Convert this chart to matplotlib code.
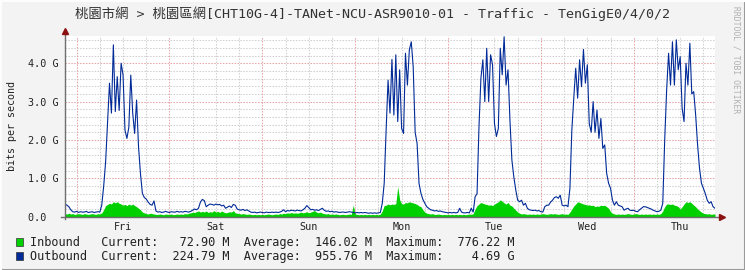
import matplotlib
matplotlib.use('Agg')
import matplotlib.pyplot as plt
from matplotlib.patches import Rectangle
from matplotlib.lines import Line2D
import numpy as np

plt.rcParams['font.family'] = ['DejaVu Sans Mono', 'Noto Sans CJK TC']

title = '桃園市網 > 桃園區網[CHT10G-4]-TANet-NCU-ASR9010-01 - Traffic - TenGigE0/4/0/2'
day_labels = ['Fri', 'Sat', 'Sun', 'Mon', 'Tue', 'Wed', 'Thu']
y_ticks = [0, 1, 2, 3, 4]
y_tick_labels = ['0.0  ', '1.0 G', '2.0 G', '3.0 G', '4.0 G']

# 30 minute samples in Gbit/s, first sample Thu 21:00
inbound = [
    0.08, 0.07, 0.09, 0.07, 0.08, 0.06, 0.07, 0.08, 0.07, 0.06, 0.08, 0.07,
    0.06, 0.07, 0.08, 0.07, 0.06, 0.08, 0.07, 0.10, 0.18, 0.29, 0.32, 0.35,
    0.33, 0.39, 0.36, 0.39, 0.35, 0.33, 0.30, 0.32, 0.29, 0.33, 0.30, 0.33,
    0.29, 0.26, 0.22, 0.18, 0.12, 0.10, 0.08, 0.07, 0.09, 0.08, 0.07, 0.06,
    0.06, 0.07, 0.06, 0.05, 0.07, 0.06, 0.06, 0.07, 0.05, 0.06, 0.07, 0.06,
    0.07, 0.06, 0.08, 0.07, 0.09, 0.10, 0.12, 0.11, 0.13, 0.15, 0.12, 0.14,
    0.12, 0.15, 0.11, 0.13, 0.12, 0.16, 0.12, 0.14, 0.11, 0.15, 0.12, 0.10,
    0.11, 0.13, 0.12, 0.16, 0.10, 0.09, 0.08, 0.07, 0.08, 0.07, 0.06, 0.07,
    0.06, 0.05, 0.06, 0.05, 0.06, 0.05, 0.06, 0.05, 0.06, 0.07, 0.06, 0.05,
    0.06, 0.07, 0.06, 0.08, 0.07, 0.09, 0.08, 0.10, 0.09, 0.11, 0.09, 0.10,
    0.09, 0.10, 0.12, 0.10, 0.11, 0.13, 0.10, 0.12, 0.14, 0.16, 0.12, 0.10,
    0.12, 0.09, 0.08, 0.07, 0.08, 0.06, 0.07, 0.06, 0.07, 0.06, 0.05, 0.06,
    0.06, 0.05, 0.06, 0.07, 0.06, 0.30, 0.07, 0.06, 0.05, 0.06, 0.05, 0.06,
    0.05, 0.06, 0.05, 0.06, 0.05, 0.06, 0.05, 0.07, 0.15, 0.29, 0.30, 0.33,
    0.31, 0.33, 0.32, 0.34, 0.78, 0.44, 0.34, 0.33, 0.37, 0.36, 0.39, 0.37,
    0.36, 0.34, 0.32, 0.28, 0.26, 0.18, 0.12, 0.09, 0.08, 0.07, 0.08, 0.06,
    0.06, 0.07, 0.06, 0.05, 0.06, 0.05, 0.06, 0.05, 0.06, 0.05, 0.06, 0.05,
    0.06, 0.05, 0.06, 0.05, 0.06, 0.07, 0.06, 0.08, 0.20, 0.29, 0.33, 0.37,
    0.35, 0.33, 0.32, 0.30, 0.31, 0.29, 0.33, 0.36, 0.39, 0.44, 0.40, 0.36,
    0.33, 0.37, 0.30, 0.28, 0.22, 0.17, 0.12, 0.09, 0.07, 0.08, 0.07, 0.06,
    0.07, 0.06, 0.07, 0.06, 0.07, 0.06, 0.07, 0.08, 0.07, 0.06, 0.07, 0.08,
    0.07, 0.08, 0.07, 0.06, 0.07, 0.08, 0.06, 0.07, 0.06, 0.12, 0.20, 0.28,
    0.33, 0.39, 0.37, 0.35, 0.33, 0.32, 0.30, 0.31, 0.29, 0.30, 0.26, 0.28,
    0.27, 0.30, 0.29, 0.30, 0.26, 0.22, 0.13, 0.09, 0.07, 0.06, 0.07, 0.06,
    0.07, 0.06, 0.07, 0.08, 0.07, 0.06, 0.07, 0.08, 0.07, 0.06, 0.07, 0.06,
    0.07, 0.06, 0.07, 0.06, 0.07, 0.06, 0.07, 0.06, 0.08, 0.15, 0.26, 0.33,
    0.33, 0.32, 0.33, 0.30, 0.29, 0.26, 0.20, 0.26, 0.33, 0.39, 0.37, 0.39,
    0.35, 0.30, 0.26, 0.20, 0.16, 0.12, 0.09, 0.08, 0.07, 0.08, 0.06, 0.07,
    0.073,
]

outbound = [
    0.33, 0.30, 0.26, 0.18, 0.13, 0.12, 0.14, 0.11, 0.13, 0.12, 0.12, 0.14,
    0.11, 0.12, 0.13, 0.11, 0.12, 0.13, 0.12, 0.30, 0.80, 1.43, 2.43, 3.48,
    2.70, 4.48, 2.74, 3.65, 2.77, 4.00, 3.70, 2.26, 2.04, 2.33, 3.69, 2.70,
    2.17, 3.04, 1.83, 1.13, 0.61, 0.50, 0.46, 0.38, 0.32, 0.30, 0.41, 0.15,
    0.12, 0.13, 0.11, 0.12, 0.14, 0.12, 0.11, 0.13, 0.12, 0.12, 0.14, 0.12,
    0.13, 0.12, 0.14, 0.13, 0.12, 0.14, 0.17, 0.20, 0.18, 0.22, 0.38, 0.45,
    0.42, 0.26, 0.30, 0.33, 0.32, 0.30, 0.33, 0.31, 0.32, 0.28, 0.30, 0.22,
    0.25, 0.28, 0.24, 0.32, 0.30, 0.20, 0.18, 0.17, 0.19, 0.16, 0.18, 0.15,
    0.12, 0.11, 0.12, 0.10, 0.11, 0.12, 0.11, 0.10, 0.12, 0.11, 0.11, 0.12,
    0.11, 0.12, 0.11, 0.12, 0.14, 0.18, 0.13, 0.16, 0.15, 0.17, 0.16, 0.15,
    0.17, 0.16, 0.15, 0.18, 0.22, 0.29, 0.24, 0.18, 0.19, 0.17, 0.18, 0.16,
    0.19, 0.22, 0.17, 0.14, 0.15, 0.13, 0.14, 0.12, 0.13, 0.12, 0.11, 0.12,
    0.12, 0.11, 0.12, 0.13, 0.12, 0.11, 0.10, 0.11, 0.10, 0.11, 0.10, 0.11,
    0.10, 0.09, 0.10, 0.09, 0.10, 0.09, 0.10, 0.11, 0.35, 0.87, 2.26, 3.56,
    2.70, 4.10, 2.65, 4.22, 2.48, 3.83, 2.30, 2.17, 4.26, 3.43, 4.35, 4.56,
    3.90, 2.20, 1.91, 0.87, 0.61, 0.45, 0.35, 0.26, 0.22, 0.18, 0.17, 0.15,
    0.16, 0.14, 0.15, 0.13, 0.12, 0.11, 0.10, 0.11, 0.10, 0.11, 0.10, 0.11,
    0.22, 0.12, 0.10, 0.10, 0.11, 0.10, 0.22, 0.12, 0.52, 0.60, 2.35, 3.61,
    4.09, 3.00, 4.39, 3.00, 4.22, 3.96, 2.43, 2.09, 2.30, 4.39, 3.70, 4.69,
    3.43, 3.83, 2.52, 1.48, 1.04, 0.70, 0.43, 0.39, 0.43, 0.30, 0.35, 0.22,
    0.18, 0.17, 0.16, 0.17, 0.15, 0.16, 0.13, 0.12, 0.26, 0.30, 0.30, 0.38,
    0.43, 0.50, 0.52, 0.48, 0.56, 0.30, 0.28, 0.30, 0.26, 0.74, 2.26, 3.09,
    3.87, 3.09, 4.09, 3.39, 4.36, 3.48, 3.96, 2.43, 2.20, 3.00, 2.20, 2.78,
    2.04, 2.56, 1.78, 1.87, 1.13, 0.87, 0.74, 0.43, 0.30, 0.39, 0.30, 0.28,
    0.26, 0.17, 0.20, 0.22, 0.17, 0.16, 0.17, 0.14, 0.13, 0.18, 0.22, 0.26,
    0.26, 0.24, 0.22, 0.20, 0.17, 0.15, 0.13, 0.14, 0.17, 0.35, 2.00, 3.30,
    4.26, 3.43, 4.56, 3.43, 4.61, 3.83, 4.17, 2.83, 2.48, 4.00, 3.43, 4.52,
    3.20, 3.26, 2.65, 1.87, 1.26, 0.87, 0.74, 0.60, 0.43, 0.35, 0.39, 0.26,
    0.22,
]

legend_names = ['Inbound', 'Outbound']
legend_colors = ['#00cf00', '#002a97']
legend_current = ['72.90 M', '224.79 M']
legend_average = ['146.02 M', '955.76 M']
legend_maximum = ['776.22 M', '4.69 G']

W, H = 745, 270
hours = np.arange(len(outbound)) * 0.5
first_midnight = 3  # hours after start

fig = plt.figure(figsize=(W / 100, H / 100), dpi=100, facecolor='#f3f3f3')
ax = fig.add_axes([65 / W, 1 - 216.7 / H, 650 / W, 180.7 / H])
ax.set_facecolor('white')
ax.set_xlim(0, 168)
ax.set_ylim(0, 4.71)

# grid
dots = (0, (1.4, 1.4))
for v in np.arange(0.2, 4.71, 0.2):
    major = abs(v - round(v)) < 1e-6
    ax.axhline(v, color='#e9a3a3' if major else '#cfcfcf', lw=0.75, ls=dots, zorder=1)
for h in range(first_midnight, 168, 6):
    major = (h - first_midnight) % 24 == 0
    ax.axvline(h, color='#e9a3a3' if major else '#cfcfcf', lw=0.75, ls=dots, zorder=1)

ax.fill_between(hours, inbound, color=legend_colors[0], lw=0, zorder=2)
ax.plot(hours, outbound, color=legend_colors[1], lw=0.8, zorder=3)

for s in ax.spines.values():
    s.set_visible(False)

axis_col = '#6e6e6e'
ax.add_line(Line2D([-0.006, 1.008], [0, 0], transform=ax.transAxes, color=axis_col,
                   lw=1, clip_on=False, zorder=4))
ax.add_line(Line2D([0, 0], [-0.012, 1.025], transform=ax.transAxes, color=axis_col,
                   lw=1, clip_on=False, zorder=4))
ax.plot([0], [1.03], marker='^', ms=4.5, color='#8b1010', transform=ax.transAxes,
        clip_on=False, zorder=5)
ax.plot([1.01], [0], marker='>', ms=4.5, color='#8b1010', transform=ax.transAxes,
        clip_on=False, zorder=5)

ax.set_yticks(y_ticks)
ax.set_yticklabels(y_tick_labels)
noon = [first_midnight + 12 + 24 * k for k in range(len(day_labels))]
ax.set_xticks(noon)
ax.set_xticklabels(day_labels)
ax.tick_params(axis='both', length=0, labelsize=7.3, colors='#222222')
ax.tick_params(axis='y', pad=4.8)
ax.tick_params(axis='x', pad=3.5)

ax.set_ylabel('bits per second', fontsize=7.2, color='#222222', labelpad=8)

fig.text(372.5 / W, 1 - 14 / H, title, ha='center', va='center', fontsize=9.6,
         color='#333333')
fig.text(736 / W, 1 - 60 / H, 'RRDTOOL / TOBI OETIKER', rotation=270, ha='center',
         va='center', fontsize=5.8, color='#b0b0b0')

# legend
rows_y = [245.7, 260.0]
for name, col, cur, avg, mx, y in zip(legend_names, legend_colors, legend_current,
                                      legend_average, legend_maximum, rows_y):
    fig.add_artist(Rectangle((15.5 / W, 1 - y / H), 7.5 / W, 8 / H, transform=fig.transFigure,
                             facecolor=col, edgecolor='#333333', lw=0.5))
    line = f'{name:<10}Current:{cur:>10}  Average:{avg:>10}  Maximum:{mx:>10}'
    fig.text(30 / W, 1 - y / H, line, ha='left', va='baseline', fontsize=8.55,
             color='#222222')

# frame
fig.add_artist(Line2D([0, 1], [0.5 / H, 0.5 / H], transform=fig.transFigure,
                      color='#9a9a9a', lw=1.5))
fig.add_artist(Line2D([1 - 0.5 / W, 1 - 0.5 / W], [0, 1], transform=fig.transFigure,
                      color='#9a9a9a', lw=1.5))
fig.add_artist(Line2D([0, 1], [1 - 0.5 / H, 1 - 0.5 / H], transform=fig.transFigure,
                      color='#fdfdfd', lw=1.5))
fig.add_artist(Line2D([0.5 / W, 0.5 / W], [0, 1], transform=fig.transFigure,
                      color='#fdfdfd', lw=1.5))

fig.savefig('out.png', dpi=100, facecolor=fig.get_facecolor())
